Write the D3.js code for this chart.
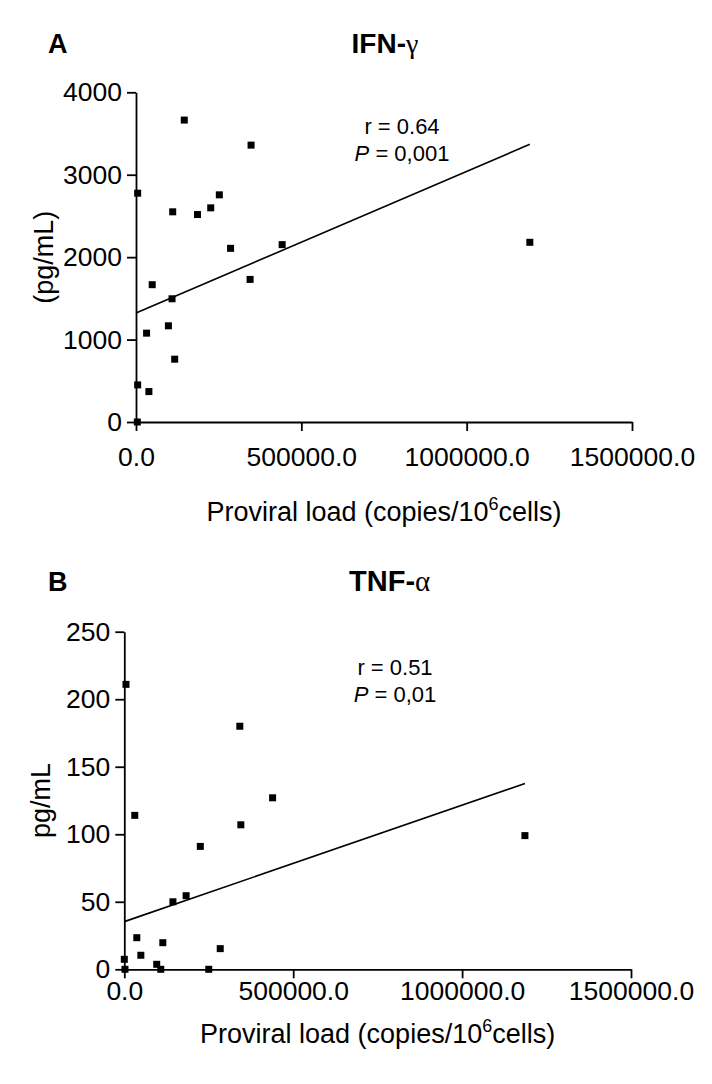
<!DOCTYPE html>
<html>
<head>
<meta charset="utf-8">
<script src="https://cdn.jsdelivr.net/npm/d3@7"></script>
<style>
  html, body { margin: 0; padding: 0; background: #fff; }
  svg { display: block; }
  text { font-family: "Liberation Sans", Arial, sans-serif; fill: #000; }
  .axis path, .axis line { stroke: #000; stroke-width: 1.8px; }
  .axis text { font-size: 26.5px; }
  .fit { fill: none; stroke: #000; stroke-width: 1.6px; }
</style>
</head>
<body>
<svg id="chart" width="712" height="1084"></svg>
<script>
'use strict';

// proviral load ticks, shared by both panels
const loadTicks = [0, 500000, 1000000, 1500000];

// A: IFN-gamma
const ifnTicks = [0, 1000, 2000, 3000, 4000];
const ifnLoad = [146000, 348000, 5000, 252000, 226000, 111000, 186000, 286000, 442000, 345000,
  49000, 109000, 98000, 32000, 117000, 5000, 39000, 4000, 1191000];
const ifnValue = [3663, 3359, 2776, 2756, 2598, 2550, 2517, 2107, 2152, 1730,
  1666, 1495, 1167, 1078, 762, 450, 369, 0, 2180];
const ifnFit = [1322, 0.001719]; // intercept, slope
const ifnStats = ["0.64", "0,001"];

// B: TNF-alpha
const tnfTicks = [0, 50, 100, 150, 200, 250];
const tnfLoad = [5000, 342000, 439000, 31000, 345000, 225000, 183000, 144000, 37000, 114000,
  284000, 49000, 0, 96000, 2000, 108000, 250000, 1186000];
const tnfValue = [211, 180, 127, 114, 107, 91, 54.5, 50, 23.4, 19.7,
  15.3, 10.4, 7.4, 3.7, 0, 0, 0, 99];
const tnfFit = [35.3, 0.0000862];
const tnfStats = ["0.51", "0,01"];

const svg = d3.select("#chart");

function drawPanel(p) {
  const x = d3.scaleLinear().domain([0, 1500000]).range([p.x0, p.x1]);
  const y = d3.scaleLinear().domain([0, p.yMax]).range([p.y0, p.y1]);
  const g = svg.append("g");

  // letter + title
  g.append("text")
    .attr("x", 48).attr("y", p.titleY)
    .style("font-size", "27px").style("font-weight", "bold")
    .text(p.letter);

  const title = g.append("text")
    .attr("x", (p.x0 + p.x1) / 2 + p.titleDx).attr("y", p.titleY)
    .attr("text-anchor", "middle")
    .style("font-size", p.titleSize).style("font-weight", "bold");
  title.append("tspan").text(p.title);
  title.append("tspan")
    .style("font-family", "'Liberation Serif', 'DejaVu Serif', serif")
    .style("font-weight", "normal")
    .text(p.greek);

  // axes
  g.append("g")
    .attr("class", "axis")
    .attr("transform", `translate(0,${p.y0})`)
    .call(d3.axisBottom(x).tickValues(loadTicks).tickFormat(d3.format(".1f"))
      .tickSize(9).tickSizeOuter(0).tickPadding(p.xPad));

  g.append("g")
    .attr("class", "axis")
    .attr("transform", `translate(${p.x0},0)`)
    .call(d3.axisLeft(y).tickValues(p.yTicks).tickFormat(d3.format("d"))
      .tickSize(9).tickSizeOuter(0).tickPadding(5));

  // axis titles
  const xt = g.append("text")
    .attr("x", (p.x0 + p.x1) / 2).attr("y", p.xTitleY)
    .attr("text-anchor", "middle")
    .style("font-size", "27px");
  xt.append("tspan").text("Proviral load (copies/10");
  xt.append("tspan").attr("dy", -11).style("font-size", "18px").text("6");
  xt.append("tspan").attr("dy", 11).text("cells)");

  g.append("text")
    .attr("transform", `translate(${p.yTitleX},${(p.y0 + p.y1) / 2}) rotate(-90)`)
    .attr("text-anchor", "middle")
    .style("font-size", "27px")
    .text(p.yTitle);

  // regression line
  const maxLoad = d3.max(p.load);
  g.append("path")
    .attr("class", "fit")
    .attr("d", d3.line()([
      [x(0), y(p.fit[0])],
      [x(maxLoad), y(p.fit[0] + p.fit[1] * maxLoad)]
    ]));

  // points
  g.selectAll("rect.pt")
    .data(d3.range(p.load.length))
    .join("rect")
    .attr("class", "pt")
    .attr("x", i => x(p.load[i]) - 3.5)
    .attr("y", i => y(p.value[i]) - 3.5)
    .attr("width", 7).attr("height", 7)
    .attr("fill", "#000");

  // stats
  const st = g.append("g").style("font-size", "22px").attr("text-anchor", "middle");
  st.append("text").attr("x", p.statX).attr("y", p.statY).text("r = " + p.stats[0]);
  const pt = st.append("text").attr("x", p.statX).attr("y", p.statY + 27);
  pt.append("tspan").style("font-style", "italic").text("P");
  pt.append("tspan").text(" = " + p.stats[1]);
}

drawPanel({
  letter: "A", title: "IFN-", greek: "\u03b3", titleY: 53, titleDx: 1, titleSize: "28px",
  x0: 136, x1: 632, y0: 422, y1: 92.3, yMax: 4000, yTicks: ifnTicks,
  load: ifnLoad, value: ifnValue, fit: ifnFit, stats: ifnStats,
  xPad: 16, xTitleY: 521, yTitle: "(pg/mL)", yTitleX: 53,
  statX: 402, statY: 134
});

drawPanel({
  letter: "B", title: "TNF-", greek: "\u03b1", titleY: 591, titleDx: 12, titleSize: "29px",
  x0: 124.3, x1: 631, y0: 969.3, y1: 631.7, yMax: 250, yTicks: tnfTicks,
  load: tnfLoad, value: tnfValue, fit: tnfFit, stats: tnfStats,
  xPad: 3, xTitleY: 1043, yTitle: "pg/mL", yTitleX: 50,
  statX: 395, statY: 675
});
</script>
</body>
</html>
